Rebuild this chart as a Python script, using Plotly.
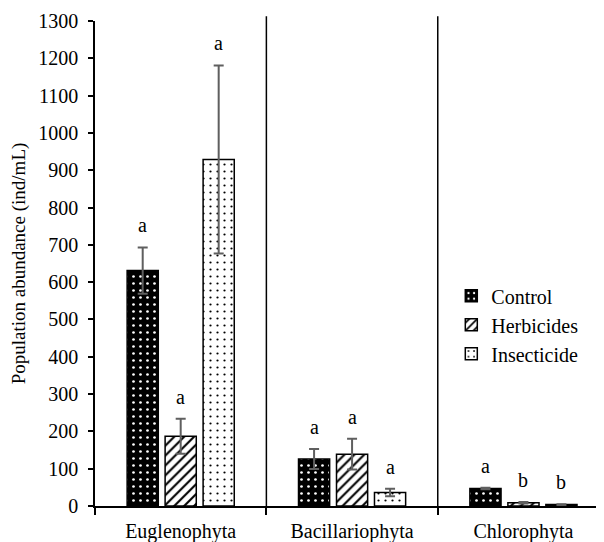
import plotly.graph_objects as go

categories = ["Euglenophyta", "Bacillariophyta", "Chlorophyta"]
series_names = ["Control", "Herbicides", "Insecticide"]
control = [631, 126, 47]
herbicides = [187, 139, 9]
insecticide = [929, 36, 4]
control_err = [62, 27, 2]
herbicides_err = [47, 41, 2]
insecticide_err = [252, 10, 1]
control_letters = ["a", "a", "a"]
herbicides_letters = ["a", "a", "b"]
insecticide_letters = ["a", "a", "b"]
y_ticks = list(range(0, 1301, 100))

values = [control, herbicides, insecticide]
errors = [control_err, herbicides_err, insecticide_err]
letters = [control_letters, herbicides_letters, insecticide_letters]
patterns = [
    dict(shape=".", bgcolor="black", fgcolor="white", size=7, solidity=0.12, fillmode="replace"),
    dict(shape="/", bgcolor="white", fgcolor="black", size=7, solidity=0.3, fillmode="replace"),
    dict(shape=".", bgcolor="white", fgcolor="black", size=7, solidity=0.08, fillmode="replace"),
]

FONT = "Liberation Serif"
xs = list(range(len(categories)))
bargap = 0.335

fig = go.Figure()
for i, name in enumerate(series_names):
    fig.add_trace(go.Bar(
        x=xs, y=values[i], name=name,
        marker=dict(color="white", pattern=patterns[i], line=dict(color="black", width=1.5)),
        error_y=dict(type="data", array=errors[i], visible=True, color="#5f5f5f", thickness=2, width=5),
    ))

slot = (1 - bargap) / len(series_names)
for i in range(len(series_names)):
    for j, c in enumerate(xs):
        fig.add_annotation(
            x=c + (i - 1) * slot, y=values[i][j] + errors[i][j], text=letters[i][j],
            showarrow=False, yanchor="bottom", yshift=9, font=dict(size=20, family=FONT, color="black"),
        )

for b in [0.5, 1.5]:
    fig.add_shape(type="line", xref="x", yref="paper", x0=b, x1=b, y0=0, y1=1.01,
                  line=dict(color="black", width=1.5))

fig.update_layout(
    template="none",
    width=596, height=534,
    margin=dict(l=87, r=0, t=13, b=36, autoexpand=False),
    paper_bgcolor="white", plot_bgcolor="white",
    barmode="group", bargap=bargap, bargroupgap=0.18,
    font=dict(family=FONT, size=20, color="black"),
    showlegend=True,
    legend=dict(x=0.70, y=0.4735, xanchor="left", yanchor="top", bgcolor="rgba(0,0,0,0)",
                font=dict(size=20, family=FONT, color="black"), itemwidth=30, tracegroupgap=0),
    xaxis=dict(range=[-0.5, 2.47], tickvals=xs, ticktext=categories, ticks="",
               tickfont=dict(family=FONT, size=20, color="black"),
               showline=True, linecolor="black", linewidth=1.5, showgrid=False, zeroline=False,
               minor=dict(tick0=-0.5, dtick=1, ticks="outside", ticklen=7, tickcolor="black", tickwidth=1.5,
                          showgrid=False),
               ticklabelstandoff=6, automargin=False),
    yaxis=dict(range=[0, 1300], tickvals=y_ticks, ticks="outside", ticklen=5, tickcolor="black",
               tickfont=dict(family=FONT, size=20, color="black"), ticklabelstandoff=6,
               tickwidth=1.5, showline=True, linecolor="black", linewidth=1.5, showgrid=False, zeroline=False,
               automargin=False,
               title=dict(text="Population abundance (ind/mL)", font=dict(size=19, family=FONT, color="black"),
                          standoff=8)),
)

fig.write_html("out.html")
